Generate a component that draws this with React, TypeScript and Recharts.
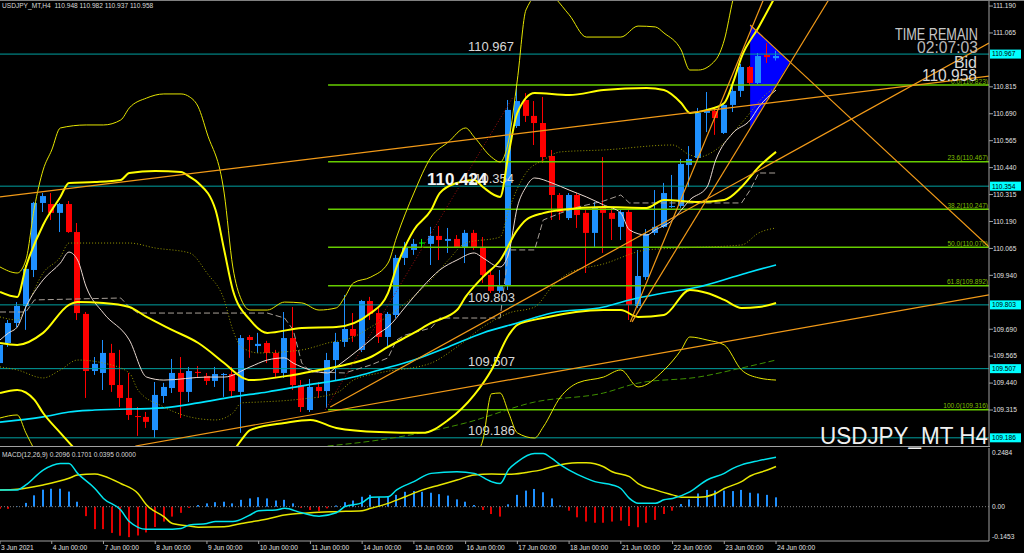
import { Area, Bar, ComposedChart, Line, ReferenceLine, XAxis, YAxis } from "recharts";

const FONT = "'Liberation Sans', Arial, sans-serif";
const BULL = "#1e90ff";
const BEAR = "#ff0000";
const DOJI = "#00ff00";
const X_MAX = 114.7; // right edge of the plot, in H4 bars (bar 0 = 3 Jun 00:00)
const P_MIN = 109.148;
const P_MAX = 111.218;

const dayLabels = [
  "3 Jun 2021", "4 Jun 00:00", "7 Jun 00:00", "8 Jun 00:00", "9 Jun 00:00", "10 Jun 00:00",
  "11 Jun 00:00", "14 Jun 00:00", "15 Jun 00:00", "16 Jun 00:00", "17 Jun 00:00", "18 Jun 00:00",
  "21 Jun 00:00", "22 Jun 00:00", "23 Jun 00:00", "24 Jun 00:00",
];
const dayTicks = dayLabels.map((_, k) => k * 6);

const priceTicks = [
  111.19, 111.065, 110.815, 110.69, 110.565, 110.44, 110.315, 110.19, 110.065, 109.94,
  109.69, 109.565, 109.44, 109.315,
];

const opens = [
  109.533, 109.626, 109.719, 109.798, 109.965, 110.276, 110.271, 110.23, 110.271, 110.141,
  109.761, 109.496, 109.487, 109.58, 109.431, 109.371, 109.287, 109.283, 109.222, 109.38,
  109.417, 109.487, 109.399, 109.492, 109.473, 109.45, 109.478, 109.482, 109.399, 109.654,
  109.612, 109.626, 109.58, 109.487, 109.649, 109.431, 109.315, 109.422, 109.403, 109.547,
  109.631, 109.691, 109.594, 109.821, 109.765, 109.654, 109.756, 110.021, 110.058, 110.09,
  110.086, 110.123, 110.1, 110.109, 110.067, 110.137, 110.072, 109.942, 109.868, 109.895,
  110.633, 110.754, 110.68, 110.647, 110.494, 110.313, 110.206, 110.313, 110.23, 110.137,
  110.253, 110.23, 110.165, 110.234, 109.798, 109.932, 110.137, 110.165, 110.257, 110.262,
  110.452, 110.485, 110.694, 110.703, 110.601, 110.731, 110.796, 110.907, 110.833, 110.963,
  110.948,
];
const highs = [
  109.64, 109.733, 109.816, 109.988, 110.281, 110.322, 110.322, 110.276, 110.285, 110.183,
  109.77, 109.561, 109.64, 109.622, 109.594, 109.487, 109.329, 109.306, 109.445, 109.441,
  109.552, 109.561, 109.515, 109.519, 109.487, 109.515, 109.487, 109.515, 109.663, 109.663,
  109.673, 109.636, 109.594, 109.77, 109.793, 109.454, 109.459, 109.445, 109.58, 109.673,
  109.849, 109.765, 109.826, 109.84, 109.789, 109.77, 110.035, 110.095, 110.109, 110.109,
  110.165, 110.169, 110.16, 110.127, 110.151, 110.151, 110.118, 109.965, 109.965, 110.754,
  110.823, 110.786, 110.749, 110.768, 110.522, 110.322, 110.322, 110.322, 110.243, 110.281,
  110.489, 110.253, 110.243, 110.243, 110.058, 110.155, 110.336, 110.369, 110.406, 110.48,
  110.54, 110.717, 110.791, 110.717, 110.74, 110.823, 110.921, 110.912, 110.972, 111.018,
  110.982,
];
const lows = [
  109.519, 109.608, 109.7, 109.687, 109.932, 110.234, 110.197, 110.141, 110.137, 109.733,
  109.371, 109.478, 109.408, 109.399, 109.329, 109.269, 109.195, 109.232, 109.186, 109.348,
  109.394, 109.278, 109.352, 109.464, 109.431, 109.422, 109.376, 109.371, 109.209, 109.557,
  109.58, 109.533, 109.464, 109.464, 109.408, 109.306, 109.306, 109.371, 109.325, 109.454,
  109.608, 109.631, 109.584, 109.733, 109.626, 109.612, 109.742, 109.988, 110.035, 110.067,
  109.988, 110.011, 110.044, 110.067, 109.997, 110.058, 109.905, 109.858, 109.858, 109.872,
  110.624, 110.652, 110.545, 110.462, 110.197, 110.197, 110.197, 110.16, 109.951, 110.072,
  110.044, 110.104, 110.104, 109.733, 109.789, 109.919, 110.127, 110.16, 110.253, 110.253,
  110.35, 110.475, 110.605, 110.592, 110.596, 110.698, 110.768, 110.823, 110.828, 110.926,
  110.937,
];
const closes = [
  109.617, 109.719, 109.798, 109.97, 110.276, 110.308, 110.23, 110.271, 110.141, 109.765,
  109.496, 109.529, 109.58, 109.431, 109.371, 109.292, 109.283, 109.26, 109.385, 109.422,
  109.487, 109.399, 109.496, 109.487, 109.45, 109.482, 109.482, 109.403, 109.649, 109.64,
  109.622, 109.58, 109.487, 109.649, 109.431, 109.329, 109.422, 109.403, 109.547, 109.631,
  109.691, 109.659, 109.821, 109.761, 109.654, 109.761, 110.021, 110.072, 110.086, 110.09,
  110.123, 110.104, 110.109, 110.072, 110.137, 110.067, 109.942, 109.868, 109.895, 110.708,
  110.749, 110.68, 110.647, 110.489, 110.313, 110.234, 110.313, 110.22, 110.137, 110.253,
  110.23, 110.202, 110.234, 109.803, 109.937, 110.132, 110.165, 110.322, 110.262, 110.457,
  110.48, 110.694, 110.703, 110.67, 110.731, 110.796, 110.907, 110.833, 110.958, 110.953,
  110.958,
];

// indicator curves: [bar, price]
const bbThickUpper = [
  [0, 109.863], [2, 109.84], [3, 109.979], [5, 110.174], [7, 110.304], [8, 110.369], [11, 110.373],
  [14, 110.383], [15, 110.415], [18, 110.424], [21, 110.42], [22, 110.397], [23, 110.369], [25, 110.243],
  [26, 110.058], [27, 109.872], [29, 109.733], [31, 109.673], [35, 109.696], [39, 109.7], [43, 109.765],
  [45, 109.858], [46, 109.979], [48, 110.151], [50, 110.243], [51, 110.322], [53, 110.369], [55, 110.383],
  [56, 110.35], [58, 110.304], [59, 110.508], [60, 110.694], [62, 110.786], [66, 110.777], [70, 110.8],
  [75, 110.81], [77, 110.8], [79, 110.74], [80, 110.694], [82, 110.708], [84, 110.74], [85, 110.833],
  [86, 110.953], [88, 111.093], [90, 111.241],
];
const bbThickMid = [
  [0, 109.626], [2, 109.617], [5, 109.673], [8, 109.803], [9, 109.816], [12, 109.812], [15, 109.793],
  [17, 109.747], [20, 109.686], [23, 109.626], [26, 109.533], [28, 109.468], [29, 109.454], [34, 109.478],
  [37, 109.501], [40, 109.524], [43, 109.561], [45, 109.608], [48, 109.673], [50, 109.719], [53, 109.779],
  [54, 109.84], [56, 109.932], [58, 110.01], [60, 110.151], [61, 110.197], [63, 110.229], [65, 110.243],
  [70, 110.257], [75, 110.253], [77, 110.29], [81, 110.281], [84, 110.29], [86, 110.35], [88, 110.443],
  [90, 110.513],
];
const bbThickLowerA = [
  [0, 109.394], [2, 109.408], [4, 109.362], [5, 109.301], [7, 109.209], [9, 109.12],
];
const bbThickLowerB = [
  [27, 109.12], [28, 109.176], [29, 109.222], [33, 109.255], [36, 109.269], [39, 109.232], [44, 109.213],
  [49, 109.209], [52, 109.269], [55, 109.385], [57, 109.501], [59, 109.663], [60, 109.71], [63, 109.742],
  [70, 109.779], [72, 109.779], [74, 109.747], [77, 109.756], [80, 109.872], [82, 109.858], [84, 109.826],
  [86, 109.789], [88, 109.793], [90, 109.812],
];
const bbThinUpper = [
  [0, 109.979], [2, 109.951], [3, 110.011], [4, 110.257], [5, 110.429], [6, 110.522], [7, 110.624],
  [10, 110.638], [12, 110.638], [14, 110.661], [15, 110.717], [17, 110.763], [19, 110.782], [21, 110.782],
  [22, 110.768], [23, 110.721], [24, 110.601], [26, 110.322], [27, 109.979], [28, 109.826], [29, 109.779],
  [31, 109.779], [33, 109.816], [35, 109.812], [37, 109.779], [39, 109.789], [40, 109.84], [41, 109.905],
  [43, 109.932], [45, 109.997], [46, 110.118], [48, 110.322], [50, 110.489], [52, 110.559], [54, 110.624],
  [55, 110.582], [57, 110.489], [58, 110.466], [59, 110.568], [60, 110.847], [61, 111.172], [63, 111.26],
  [66, 111.15], [68, 111.046], [72, 111.046], [74, 111.097], [76, 111.093], [77, 111.065], [79, 110.986],
  [80, 110.893], [81, 110.893], [83, 110.94], [84, 111.032], [85, 111.218], [87, 111.45], [90, 111.77],
];
const bbThinLowerA = [[0, 109.278], [2, 109.292], [3, 109.209], [4, 109.13]];
const bbThinLowerB = [
  [55, 109.1], [56, 109.176], [57, 109.39], [58, 109.394], [59, 109.301], [60, 109.209], [62, 109.185],
  [63, 109.236], [65, 109.375], [67, 109.441], [70, 109.468], [72, 109.501], [74, 109.422], [77, 109.5],
  [79, 109.594], [80, 109.654], [82, 109.64], [84, 109.617], [86, 109.501], [88, 109.464], [90, 109.454],
];
const midDotted = [
  [0, 109.747], [2, 109.733], [3, 109.793], [5, 109.951], [7, 110.025], [8, 110.09], [15, 110.09],
  [18, 110.067], [22, 110.044], [24, 109.951], [26, 109.826], [27, 109.687], [28, 109.608], [30, 109.58],
  [35, 109.594], [38, 109.626], [41, 109.654], [43, 109.7], [46, 109.779], [50, 109.919], [52, 110.011],
  [54, 110.09], [58, 110.118], [59, 110.243], [61, 110.415], [63, 110.475], [65, 110.513], [70, 110.522],
  [78, 110.545], [80, 110.499], [81, 110.489], [83, 110.522], [86, 110.647], [89, 110.786], [90, 110.814],
];
const lowDotted = [
  [0, 109.515], [2, 109.501], [5, 109.464], [7, 109.501], [9, 109.547], [12, 109.533], [15, 109.487],
  [16, 109.408], [19, 109.329], [22, 109.283], [25, 109.269], [27, 109.301], [28, 109.348], [30, 109.352],
  [34, 109.362], [39, 109.394], [41, 109.454], [44, 109.487], [50, 109.533], [53, 109.608], [56, 109.7],
  [59, 109.765], [62, 109.793], [64, 109.886], [66, 109.951], [70, 109.993], [75, 110.058], [79, 110.067],
  [86, 110.081], [88, 110.137], [90, 110.16],
];
const fastMa = [
  [0, 109.64], [1, 109.673], [2, 109.7], [3, 109.793], [5, 109.919], [7, 109.997], [8, 110.048],
  [9, 110.011], [10, 109.886], [12, 109.765], [15, 109.64], [17, 109.468], [19, 109.454], [24, 109.468],
  [26, 109.468], [29, 109.515], [31, 109.547], [33, 109.557], [34, 109.533], [36, 109.501], [38, 109.487],
  [39, 109.515], [42, 109.608], [44, 109.673], [45, 109.7], [47, 109.793], [49, 109.886], [51, 109.965],
  [53, 110.011], [55, 110.044], [56, 110.021], [58, 109.979], [59, 110.044], [60, 110.257], [61, 110.35],
  [62, 110.392], [64, 110.369], [66, 110.336], [68, 110.304], [70, 110.267], [72, 110.229], [73, 110.151],
  [75, 110.127], [76, 110.151], [78, 110.197], [79, 110.243], [80, 110.29], [82, 110.35], [83, 110.475],
  [85, 110.601], [87, 110.661], [88, 110.721], [90, 110.8],
];
const slowMa = [
  [0, 109.259], [5, 109.283], [8, 109.306], [11, 109.315], [19, 109.325], [23, 109.348], [27, 109.376],
  [31, 109.399], [35, 109.427], [41, 109.468], [44, 109.501], [48, 109.547], [52, 109.608], [56, 109.673],
  [60, 109.719], [64, 109.765], [70, 109.793], [73, 109.826], [77, 109.858], [81, 109.886], [85, 109.932],
  [87, 109.956], [90, 109.988],
];
const baseLine = [
  [0, 109.77], [3, 109.77], [4, 109.826], [14, 109.835], [15, 109.793], [16, 109.765], [31, 109.765],
  [33, 109.742], [34, 109.687], [35, 109.533], [36, 109.492], [40, 109.487], [43, 109.524], [45, 109.557],
  [46, 109.64], [47, 109.663], [50, 109.696], [51, 109.742], [58, 109.742], [59, 110.058], [62, 110.058],
  [63, 110.197], [65, 110.229], [67, 110.257], [70, 110.285], [72, 110.313], [73, 110.276], [86, 110.276],
  [87, 110.336], [88, 110.415], [90, 110.415],
];
const greenDashed = [
  [38, 109.148], [44, 109.176], [54, 109.255], [62, 109.352], [70, 109.394], [74, 109.44], [81, 109.468],
  [86, 109.51], [90, 109.547],
];

// drawn objects
const levelPrices = [110.967, 110.354, 109.803, 109.507, 109.186];
const levelTexts = ["110.967", "110.354", "109.803", "109.507", "109.186"];
const fibStart = 38.05;
const fibPrices = [110.823, 110.467, 110.247, 110.07, 109.892, 109.316];
const fibTexts = ["0.0(110.823)", "23.6(110.467)", "38.2(110.247)", "50.0(110.070)", "61.8(109.892)", "100.0(109.316)"];
const trendLines = [
  [0, 110.304, 114.7, 110.865],
  [15.7, 109.148, 114.7, 109.849],
  [38.3, 109.329, 114.7, 111.018],
  [73.1, 109.724, 89.0, 111.264],
  [73.3, 109.724, 96.1, 111.218],
  [87.0, 111.102, 114.7, 110.072],
];
const zigLine = [37.7, 109.315, 59.5, 110.768];
const triangle = [
  { i: 87.0, r: [110.625, 111.102] },
  { i: 91.6, r: [110.93, 110.93] },
];

const macdHist = [
  -0.009, -0.009, 0.002, 0.016, 0.048, 0.072, 0.076, 0.076, 0.064, 0.021,
  -0.04, -0.095, -0.095, -0.111, -0.123, -0.129, -0.122, -0.109, -0.086, -0.063,
  -0.042, -0.026, -0.005, 0.007, 0.014, 0.019, 0.021, 0.014, 0.029, 0.035,
  0.04, 0.035, 0.026, 0.029, 0.014, -0.005, -0.014, -0.018, -0.007, 0.005,
  0.019, 0.026, 0.042, 0.05, 0.04, 0.042, 0.05, 0.063, 0.066, 0.063,
  0.059, 0.053, 0.047, 0.031, 0.021, 0.007, -0.014, -0.031, -0.042, 0.01,
  0.05, 0.068, 0.075, 0.061, 0.035, 0.005, -0.017, -0.045, -0.063, -0.068,
  -0.068, -0.063, -0.059, -0.082, -0.087, -0.068, -0.056, -0.031, -0.017, 0.011,
  0.031, 0.056, 0.071, 0.068, 0.068, 0.066, 0.071, 0.059, 0.056, 0.05,
  0.0395,
];
const macdMain = [
  [0, 0.071], [2, 0.071], [3, 0.092], [5, 0.155], [7, 0.183], [8, 0.183], [9, 0.141], [11, 0.077],
  [12, 0.035], [14, -0.014], [15, -0.063], [17, -0.096], [19, -0.096], [21, -0.092], [22, -0.077],
  [24, -0.071], [25, -0.063], [27, -0.063], [29, -0.035], [30, -0.017], [32, -0.014], [33, -0.007],
  [35, -0.026], [37, -0.04], [39, -0.026], [40, 0.0], [42, 0.017], [43, 0.04], [45, 0.042], [46, 0.071],
  [48, 0.106], [50, 0.141], [53, 0.148], [55, 0.141], [57, 0.106], [58, 0.098], [59, 0.158], [60, 0.19],
  [62, 0.225], [63, 0.225], [64, 0.204], [65, 0.177], [66, 0.155], [68, 0.12], [69, 0.106], [71, 0.092],
  [72, 0.077], [73, 0.035], [74, 0.014], [76, 0.014], [77, 0.029], [78, 0.035], [80, 0.063], [82, 0.113],
  [84, 0.141], [85, 0.162], [86, 0.177], [88, 0.195], [90, 0.2096],
];
const macdSignal = [
  [0, 0.071], [2, 0.074], [5, 0.092], [8, 0.12], [9, 0.134], [11, 0.138], [12, 0.13], [14, 0.098],
  [16, 0.056], [17, 0.007], [19, -0.042], [20, -0.071], [22, -0.082], [23, -0.087], [26, -0.085],
  [28, -0.071], [31, -0.052], [33, -0.035], [36, -0.026], [39, -0.021], [42, -0.017], [43, -0.007],
  [45, 0.014], [47, 0.042], [49, 0.071], [51, 0.092], [53, 0.113], [55, 0.134], [57, 0.138], [59, 0.137],
  [61, 0.145], [63, 0.158], [64, 0.169], [67, 0.186], [68, 0.186], [70, 0.169], [71, 0.148], [73, 0.127],
  [74, 0.098], [76, 0.071], [78, 0.05], [79, 0.04], [81, 0.04], [83, 0.056], [84, 0.077], [86, 0.106],
  [87, 0.13], [89, 0.155], [90, 0.1701],
];

const candles = opens.map((o, i) => ({ i, o, h: highs[i], l: lows[i], c: closes[i], range: [lows[i], highs[i]] }));
const histData = macdHist.map((v, i) => ({ i, v }));
const pts = (a: number[][]) => a.map(([i, v]) => ({ i, v }));

function Candle(props: any) {
  const { x, y, width, height, payload } = props;
  if (!payload) return null;
  const { o, h, l, c } = payload;
  const top = Math.min(y, y + height);
  const span = Math.abs(height);
  const k = h > l ? span / (h - l) : 0;
  const yo = top + (h - o) * k;
  const yc = top + (h - c) * k;
  const color = c > o ? BULL : c < o ? BEAR : DOJI;
  const bx = Math.round(x);
  const cx = bx + 2.5;
  return (
    <g>
      <line x1={cx} x2={cx} y1={top} y2={top + span} stroke={color} strokeWidth={1} />
      {c === o ? (
        <line x1={bx} x2={bx + width} y1={yo} y2={yo} stroke={color} strokeWidth={1} />
      ) : (
        <rect x={bx} y={Math.min(yo, yc)} width={width} height={Math.max(1, Math.abs(yo - yc))} fill={color} />
      )}
    </g>
  );
}

function HistBar(props: any) {
  const { x, y, width, height, payload } = props;
  if (!payload) return null;
  return (
    <rect x={Math.round(x)} y={Math.min(y, y + height)} width={width} height={Math.abs(height)}
      fill={payload.v >= 0 ? BULL : "#e00000"} />
  );
}

const levelLabel = (txt: string) => (props: any) => {
  const vb = props.viewBox || {};
  const x = vb.x ?? 0, y = vb.y ?? 0, w = vb.width ?? 0;
  return (
    <g>
      <text x={x + 468} y={y - 3} fill="#d8d8d8" fontSize={13} fontFamily={FONT}>{txt}</text>
      <rect x={x + w + 1} y={y - 4.5} width={31} height={9} fill="#00ffff" />
      <text x={x + w + 3} y={y + 2.4} fill="#000" fontSize={6.6} fontFamily={FONT}>{txt}</text>
    </g>
  );
};

const fibLabel = (txt: string) => (props: any) => {
  const vb = props.viewBox || {};
  return (
    <text x={(vb.x ?? 0) + (vb.width ?? 0) - 1} y={(vb.y ?? 0) - 1.5} textAnchor="end"
      fill="#7fbf00" fontSize={6.6} fontFamily={FONT}>{txt}</text>
  );
};

function XTick(props: any) {
  const { x, y, payload } = props;
  const k = dayTicks.indexOf(payload.value);
  return (
    <text x={x + 1} y={y + 5.5} fill="#e0e0e0" fontSize={6.6} fontFamily={FONT}>{dayLabels[k] ?? ""}</text>
  );
}

function MacdTick(props: any) {
  const { x, y, payload } = props;
  const v = payload.value;
  const dy = v > 0.2 ? 5 : v < -0.1 ? -4 : 0;
  const txt = v === 0 ? "0.00" : v.toFixed(4);
  return (
    <text x={x + 3} y={y + dy + 2.3} fill="#e0e0e0" fontSize={6.6} fontFamily={FONT}>{txt}</text>
  );
}

const noAnim = { isAnimationActive: false, dot: false, activeDot: false } as const;

export default function App() {
  return (
    <div style={{ position: "fixed", left: 0, top: 0, width: 1024, height: 553, background: "#000", overflow: "hidden" }}>
      <div style={{ position: "absolute", left: 0, top: 0 }}>
        <ComposedChart width={1024} height={446} data={candles} margin={{ top: 0, right: 0, bottom: 0, left: 0 }}>
          <XAxis dataKey="i" type="number" domain={[0, X_MAX]} hide allowDataOverflow />
          <YAxis orientation="right" width={35} domain={[P_MIN, P_MAX]} allowDataOverflow ticks={priceTicks}
            interval={0} tickFormatter={(v: number) => v.toFixed(3)} tickSize={4} tickMargin={0}
            tick={{ fill: "#e0e0e0", fontSize: 6.6, fontFamily: FONT }}
            axisLine={{ stroke: "#a0a0a0" }} tickLine={{ stroke: "#a0a0a0" }} />
          <Area data={triangle} dataKey="r" type="linear" fill="#0000ff" fillOpacity={1} stroke="none"
            isAnimationActive={false} />
          <Bar dataKey="range" barSize={6} shape={Candle} isAnimationActive={false} />
          {fibPrices.map((p, k) => (
            <ReferenceLine key={"f" + k} segment={[{ x: fibStart, y: p }, { x: X_MAX, y: p }]}
              stroke="#66cc00" strokeWidth={1.5} label={fibLabel(fibTexts[k])} />
          ))}
          {levelPrices.map((p, k) => (
            <ReferenceLine key={"h" + k} y={p} stroke="#00a0a0" strokeWidth={1} label={levelLabel(levelTexts[k])} />
          ))}
          <Line data={pts(slowMa)} dataKey="v" type="monotone" stroke="#00e5ff" strokeWidth={1.6} {...noAnim} />
          <Line data={pts(greenDashed)} dataKey="v" type="monotone" stroke="#3f8f00" strokeWidth={1}
            strokeDasharray="6 3" {...noAnim} />
          <Line data={pts(baseLine)} dataKey="v" type="linear" stroke="#a8a098" strokeWidth={1}
            strokeDasharray="6 3" {...noAnim} />
          <Line data={pts(midDotted)} dataKey="v" type="monotone" stroke="#9a9a00" strokeWidth={1}
            strokeDasharray="1 2" {...noAnim} />
          <Line data={pts(lowDotted)} dataKey="v" type="monotone" stroke="#9a9a00" strokeWidth={1}
            strokeDasharray="1 2" {...noAnim} />
          <Line data={pts(fastMa)} dataKey="v" type="monotone" stroke="#e8d8d0" strokeWidth={1} {...noAnim} />
          <Line data={pts(bbThinUpper)} dataKey="v" type="monotone" stroke="#e6e600" strokeWidth={1} {...noAnim} />
          <Line data={pts(bbThinLowerA)} dataKey="v" type="monotone" stroke="#e6e600" strokeWidth={1} {...noAnim} />
          <Line data={pts(bbThinLowerB)} dataKey="v" type="monotone" stroke="#e6e600" strokeWidth={1} {...noAnim} />
          <Line data={pts(bbThickUpper)} dataKey="v" type="monotone" stroke="#ffff00" strokeWidth={2} {...noAnim} />
          <Line data={pts(bbThickMid)} dataKey="v" type="monotone" stroke="#ffff00" strokeWidth={2} {...noAnim} />
          <Line data={pts(bbThickLowerA)} dataKey="v" type="monotone" stroke="#ffff00" strokeWidth={2} {...noAnim} />
          <Line data={pts(bbThickLowerB)} dataKey="v" type="monotone" stroke="#ffff00" strokeWidth={2} {...noAnim} />
          {trendLines.map((t, k) => (
            <ReferenceLine key={"t" + k} segment={[{ x: t[0], y: t[1] }, { x: t[2], y: t[3] }]}
              stroke="#f29a18" strokeWidth={1.2} ifOverflow="hidden" />
          ))}
          <ReferenceLine segment={[{ x: zigLine[0], y: zigLine[1] }, { x: zigLine[2], y: zigLine[3] }]}
            stroke="#a01010" strokeWidth={1} strokeDasharray="1 2" ifOverflow="hidden" />
        </ComposedChart>
      </div>
      <div style={{ position: "absolute", left: 0, top: 0, width: 1024, height: 1, background: "#808080" }} />
      <div style={{ position: "absolute", left: 0, top: 446, width: 990, height: 1, background: "#a0a0a0" }} />
      <div style={{ position: "absolute", left: 0, top: 447 }}>
        <ComposedChart width={1024} height={106} data={histData} margin={{ top: 1, right: 0, bottom: 0, left: 0 }}>
          <XAxis dataKey="i" type="number" domain={[0, X_MAX]} allowDataOverflow ticks={dayTicks} interval={0}
            height={12} tickSize={3} tickMargin={0} tick={XTick}
            axisLine={{ stroke: "#a0a0a0" }} tickLine={{ stroke: "#a0a0a0" }} />
          <YAxis orientation="right" width={35} domain={[-0.1453, 0.2484]} allowDataOverflow
            ticks={[0.2484, 0, -0.1453]} interval={0} tickSize={0} tickMargin={0} tick={MacdTick}
            axisLine={{ stroke: "#a0a0a0" }} tickLine={false} />
          <ReferenceLine y={0} stroke="#808080" strokeDasharray="1 2" />
          <Bar dataKey="v" barSize={2} shape={HistBar} isAnimationActive={false} />
          <Line data={pts(macdSignal)} dataKey="v" type="monotone" stroke="#e6e600" strokeWidth={1.5} {...noAnim} />
          <Line data={pts(macdMain)} dataKey="v" type="monotone" stroke="#00e5ee" strokeWidth={1.5} {...noAnim} />
        </ComposedChart>
      </div>
      <svg width={1024} height={553} style={{ position: "absolute", left: 0, top: 0, pointerEvents: "none" }}>
        <g fontFamily={FONT}>
          <text x={2} y={8} fontSize={6.6} fill="#d8d8d8" style={{ whiteSpace: "pre" }}>
            {"USDJPY_MT,H4  110.948 110.982 110.937 110.958"}
          </text>
          <text x={2} y={457} fontSize={6.6} fill="#d8d8d8" style={{ whiteSpace: "pre" }}>
            {"MACD(12,26,9) 0.2096 0.1701 0.0395 0.0000"}
          </text>
          <text x={978} y={40} textAnchor="end" fontSize={16} fill="#c8c8c8" textLength={83}
            lengthAdjust="spacingAndGlyphs">TIME REMAIN</text>
          <text x={978} y={53} textAnchor="end" fontSize={17} fill="#b8b8b8" textLength={61}
            lengthAdjust="spacingAndGlyphs">02:07:03</text>
          <text x={977} y={68} textAnchor="end" fontSize={16} fill="#d8d8d8">Bid</text>
          <text x={977} y={81} textAnchor="end" fontSize={17} fill="#d8d8d8" textLength={55}
            lengthAdjust="spacingAndGlyphs">110.958</text>
          <text x={427} y={185} fontSize={17} fontWeight="bold" fill="#f4f4f4">110.424</text>
          <text x={988} y={444} textAnchor="end" fontSize={24} fill="#f0f0f0" textLength={168}
            lengthAdjust="spacingAndGlyphs">USDJPY_MT H4</text>
        </g>
      </svg>
    </div>
  );
}
